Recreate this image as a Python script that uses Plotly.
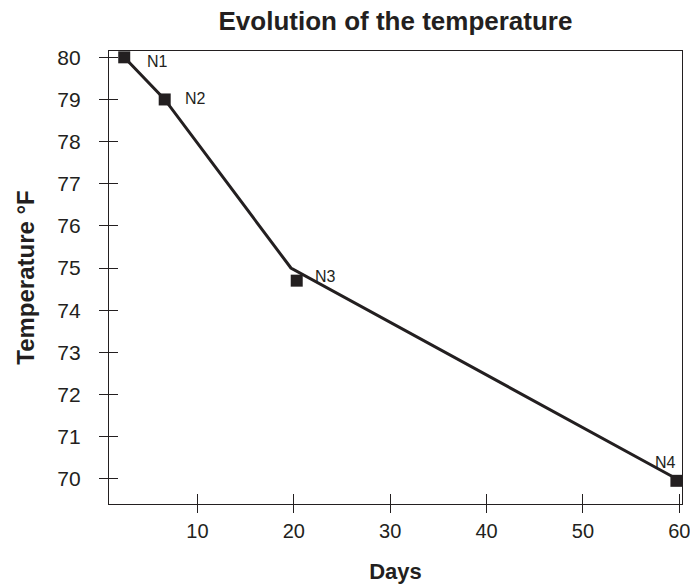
import plotly.graph_objects as go

# Data
labels = ["N1", "N2", "N3", "N4"]
marker_days = [2.4, 6.6, 20.3, 59.7]
marker_temp = [80.0, 79.0, 74.7, 69.95]
line_days = [2.4, 6.6, 19.7, 59.7]
line_temp = [80.0, 79.0, 75.0, 70.0]
x_ticks = [10, 20, 30, 40, 50, 60]
y_ticks = [70, 71, 72, 73, 74, 75, 76, 77, 78, 79, 80]

FONT = "Liberation Sans, Arial, Helvetica, sans-serif"
INK = "#231f20"
x_range = [0.82, 60.28]
y_range = [69.4, 80.15]

# label offsets (pixels) for the point annotations
lab_xshift = [21, 18, 16, -11]
lab_yshift = [-4, 1, 4, 18]
lab_anchor = ["left", "left", "left", "center"]

fig = go.Figure()
fig.add_trace(go.Scatter(x=line_days, y=line_temp, mode="lines",
                         line=dict(color=INK, width=3), showlegend=False,
                         hoverinfo="skip"))
fig.add_trace(go.Scatter(x=marker_days, y=marker_temp, mode="markers",
                         marker=dict(symbol="square", size=12, color=INK),
                         showlegend=False))
# invisible trace to activate the overlay axes
fig.add_trace(go.Scatter(x=[x_range[0]], y=[y_range[0]], xaxis="x2", yaxis="y2",
                         mode="markers", marker=dict(opacity=0),
                         showlegend=False, hoverinfo="skip"))

for lab, xd, yd, xs, ys, an in zip(labels, marker_days, marker_temp,
                                   lab_xshift, lab_yshift, lab_anchor):
    fig.add_annotation(x=xd, y=yd, text=lab, showarrow=False, xanchor=an,
                       yanchor="middle", xshift=xs, yshift=ys,
                       font=dict(family=FONT, size=16, color=INK))

axis_common = dict(showgrid=False, zeroline=False, tickcolor=INK, tickwidth=1.2,
                   automargin=False)

fig.update_layout(
    width=690, height=584,
    margin=dict(l=109, r=8, t=51, b=80),
    paper_bgcolor="white", plot_bgcolor="white",
    title=dict(text="<b>Evolution of the temperature</b>", x=0.5, xref="paper",
               xanchor="center", y=1 - 21 / 584, yref="container", yanchor="middle",
               font=dict(family=FONT, size=26, color=INK)),
    xaxis=dict(range=x_range, tickvals=x_ticks, ticks="outside", ticklen=8,
               showline=True, mirror=True, linecolor=INK, linewidth=1.2,
               tickfont=dict(family=FONT, size=20, color=INK),
               ticklabelstandoff=1, ticklabeloverflow="allow",
               title=dict(text="<b>Days</b>", standoff=23,
                          font=dict(family=FONT, size=22, color=INK)),
               **axis_common),
    yaxis=dict(range=y_range, tickvals=y_ticks, ticks="outside", ticklen=9,
               showline=True, mirror=True, linecolor=INK, linewidth=1.2,
               tickfont=dict(family=FONT, size=21, color=INK),
               ticklabelstandoff=14, ticklabeloverflow="allow",
               title=dict(text="<b>Temperature °F</b>", standoff=15,
                          font=dict(family=FONT, size=24, color=INK)),
               **axis_common),
    xaxis2=dict(range=x_range, tickvals=x_ticks, ticks="inside", ticklen=10,
                overlaying="x", side="bottom", showticklabels=False,
                showline=False, anchor="y2", **axis_common),
    yaxis2=dict(range=y_range, tickvals=y_ticks, ticks="inside", ticklen=9,
                overlaying="y", side="left", showticklabels=False,
                showline=False, anchor="x2", **axis_common),
)

fig.write_html("out.html", config={"displayModeBar": False},
               post_script="document.body.style.margin='0';document.body.style.overflow='hidden';")
